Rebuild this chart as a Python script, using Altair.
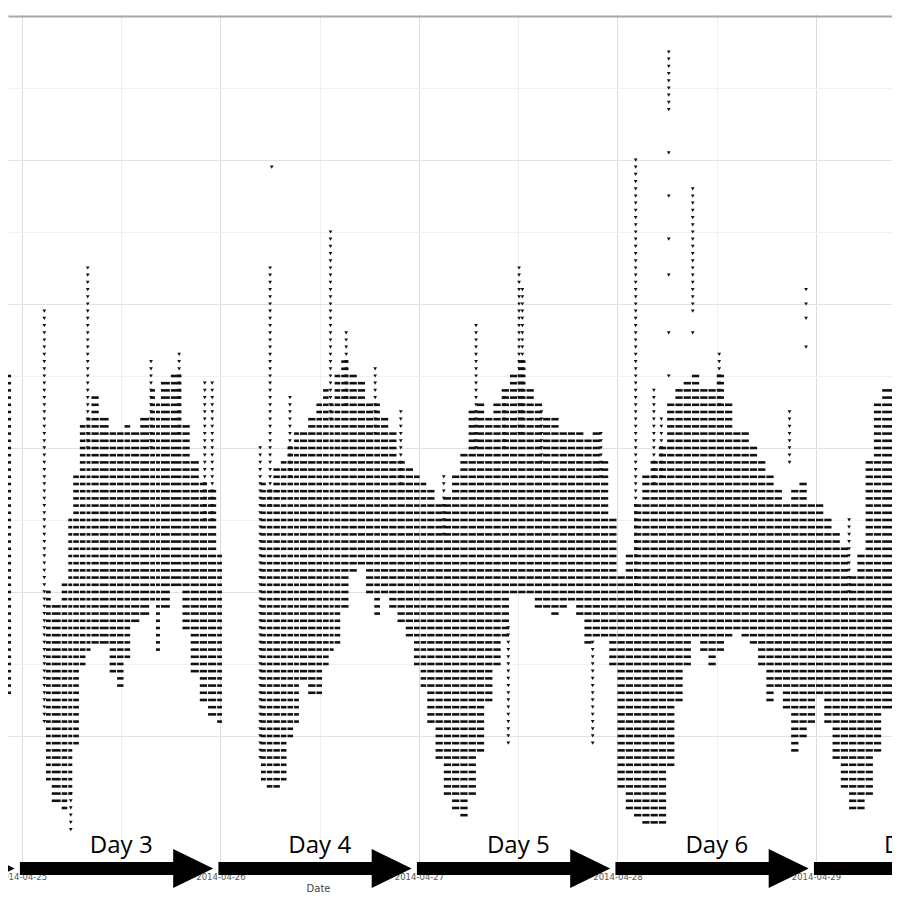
import altair as alt
import pandas as pd

# ---------------- data (x = hours since 2014-04-25 00:00 UTC, y = reading level) -------------
# dense blocks: [start hour, end hour, lowest level, highest level]
day2_blocks = [[-2.7, -1.2, 26, 70]]
day3_blocks = [
    [2.9, 3.6, 14, 40], [3.6, 4.8, 11, 38], [4.8, 5.6, 10, 41], [5.6, 6.2, 12, 50],
    [6.2, 7.0, 19, 56], [7.0, 7.8, 30, 63], [7.8, 8.4, 32, 64], [8.4, 9.4, 33, 67],
    [9.4, 10.6, 33, 64], [10.6, 11.5, 29, 62], [11.5, 12.4, 27, 62], [12.4, 13.2, 31, 63],
    [13.2, 14.3, 36, 62], [14.3, 15.5, 37, 64], [15.5, 16.2, 39, 68], [16.2, 16.8, 32, 66],
    [16.8, 18.0, 38, 69], [18.0, 19.4, 41, 70], [19.4, 20.4, 35, 63], [20.4, 21.5, 29, 58],
    [21.5, 22.5, 25, 55], [22.5, 23.6, 23, 54], [23.6, 24.3, 22, 45],
]
day4_blocks = [
    [28.9, 29.6, 14, 55], [29.6, 30.4, 13, 54], [30.4, 31.3, 13, 57], [31.3, 32.1, 14, 58],
    [32.1, 32.9, 20, 60], [32.9, 33.6, 22, 62], [33.6, 34.6, 28, 62], [34.6, 35.6, 26, 64],
    [35.6, 36.4, 26, 66], [36.4, 37.2, 30, 68], [37.2, 37.8, 32, 66], [37.8, 38.6, 33, 70],
    [38.6, 39.6, 38, 72], [39.6, 40.6, 43, 70], [40.6, 41.6, 44, 69], [41.6, 42.6, 40, 66],
    [42.6, 43.4, 37, 66], [43.4, 44.4, 40, 64], [44.4, 45.4, 38, 62], [45.4, 46.4, 36, 58],
    [46.4, 47.4, 34, 57], [47.4, 48.2, 30, 56],
]
day5_blocks = [
    [48.2, 49.0, 27, 55], [49.0, 50.0, 22, 54], [50.0, 51.0, 17, 52], [51.0, 52.0, 12, 53],
    [52.0, 53.0, 10, 56], [53.0, 54.0, 9, 59], [54.0, 55.0, 12, 65], [55.0, 56.0, 18, 66],
    [56.0, 57.0, 25, 64], [57.0, 58.0, 30, 66], [58.0, 59.0, 34, 68], [59.0, 60.0, 40, 70],
    [60.0, 61.0, 40, 72], [61.0, 62.0, 40, 68], [62.0, 63.0, 38, 66], [63.0, 64.0, 38, 64],
    [64.0, 65.0, 37, 64], [65.0, 66.0, 38, 62], [66.0, 67.0, 39, 62], [67.0, 68.0, 37, 62],
    [68.0, 69.0, 33, 61], [69.0, 70.0, 34, 62], [70.0, 71.0, 34, 58], [71.0, 72.0, 30, 50],
]
day6_blocks = [
    [72.0, 73.0, 13, 42], [73.0, 74.0, 10, 45], [74.0, 75.0, 9, 52], [75.0, 76.0, 8, 56],
    [76.0, 77.0, 8, 58], [77.0, 78.0, 8, 60], [78.0, 79.0, 16, 66], [79.0, 80.0, 25, 68],
    [80.0, 81.0, 30, 69], [81.0, 82.0, 34, 70], [82.0, 83.0, 32, 68], [83.0, 84.0, 30, 68],
    [84.0, 85.0, 32, 70], [85.0, 86.0, 34, 66], [86.0, 87.0, 35, 62], [87.0, 88.0, 34, 62],
    [88.0, 89.0, 33, 60], [89.0, 90.0, 30, 58], [90.0, 91.0, 25, 56], [91.0, 92.0, 27, 54],
    [92.0, 93.0, 24, 52], [93.0, 94.0, 18, 54], [94.0, 95.0, 20, 55], [95.0, 96.0, 22, 52],
]
day7_blocks = [
    [96.0, 97.0, 26, 52], [97.0, 98.0, 22, 50], [98.0, 99.0, 17, 48], [99.0, 100.0, 13, 46],
    [100.0, 101.0, 10, 42], [101.0, 102.0, 10, 45], [102.0, 103.0, 12, 58],
    [103.0, 104.0, 18, 66], [104.0, 105.4, 24, 68],
]

# sparse columns of single readings: hour, lowest level, highest level
spike_hours = [2.7, 7.95, 15.6, 19.0, 22.1, 23.0, 5.9,
               28.8, 30.0, 32.4, 37.3, 39.2, 42.7, 45.8,
               54.9, 60.1, 60.5, 58.8, 69.0, 51.0, 58.3, 62.8, 70.0,
               74.2, 78.2, 81.1, 84.3, 92.8, 76.4, 77.3,
               100.0]
spike_low = [22, 60, 60, 62, 50, 50, 7,
             17, 52, 56, 64, 66, 62, 55,
             60, 62, 62, 19, 19, 48, 60, 58, 56,
             40, 107, 79, 66, 58, 55, 56,
             40]
spike_high = [79, 85, 72, 73, 69, 69, 12,
              60, 85, 67, 90, 76, 71, 65,
              77, 85, 82, 35, 33, 56, 67, 65, 62,
              100, 115, 96, 73, 65, 68, 64,
              50]

# isolated readings
lone_hours = [30.2, 78.2, 78.2, 78.2, 78.2, 78.2, 78.2, 81.1, 94.8, 94.8, 94.8, 94.8]
lone_levels = [99, 101, 95, 89, 84, 76, 70, 76, 82, 80, 78, 74]

# day annotations
day_labels = ["Day 2", "Day 3", "Day 4", "Day 5", "Day 6", "Day 7"]
day_start_hours = [-24, 0, 24, 48, 72, 96]

# ---------------- tables -------------
streak_rows = []
for blocks in [day2_blocks, day3_blocks, day4_blocks, day5_blocks, day6_blocks, day7_blocks]:
    for s, e, lo, hi in blocks:
        for lev in range(lo, hi + 1):
            streak_rows.append({"h": s, "h2": e - 0.12, "L": lev})
streaks_df = pd.DataFrame(streak_rows)

dot_rows = []
for h, lo, hi in zip(spike_hours, spike_low, spike_high):
    for lev in range(lo, hi + 1):
        dot_rows.append({"h": h, "L": lev})
for h, lev in zip(lone_hours, lone_levels):
    dot_rows.append({"h": h, "L": lev})
dots_df = pd.DataFrame(dot_rows)

days_df = pd.DataFrame({
    "day": day_labels,
    "start": [s - 0.25 for s in day_start_hours],
    "shaft_end": [s + 19.0 for s in day_start_hours],
    "head": [s + 20.7 for s in day_start_hours],
    "mid": [s + 12 for s in day_start_hours],
})

# ---------------- chart -------------
xscale = alt.Scale(domain=[-1.69, 105.19], nice=False, zero=False)
yscale = alt.Scale(domain=[1.94, 120.28], nice=False, zero=False)

xaxis = alt.Axis(
    values=[0, 12, 24, 36, 48, 60, 72, 84, 96],
    labelExpr="datum.value % 24 === 0 ? utcFormat(utc(2014,3,25) + datum.value*3600000, '%Y-%m-%d') : ''",
    grid=True,
    gridColor={"condition": {"test": "datum.value % 24 === 0", "value": "#dcdcdc"}, "value": "#efefef"},
    gridWidth=1,
    domain=False,
    ticks=False,
    labelPadding=6,
    labelFontSize=8.5,
    labelColor="#555",
    labelFont="DejaVu Sans",
    title="Date",
    titleFontSize=10,
    titleFontWeight="normal",
    titleColor="#444",
    titleFont="DejaVu Sans",
    titleX=310,
    titleY=17,
)
yaxis = alt.Axis(
    values=[20, 30, 40, 50, 60, 70, 80, 90, 100, 110, 120],
    grid=True,
    gridColor={"condition": [{"test": "datum.value === 120", "value": "#a8a8a8"},
                             {"test": "datum.value % 20 === 0", "value": "#e2e2e2"}],
               "value": "#f1f1f1"},
    gridWidth={"condition": {"test": "datum.value === 120", "value": 2}, "value": 1},
    labels=False,
    ticks=False,
    domain=False,
    title=None,
)

streaks = alt.Chart(streaks_df).mark_rule(strokeWidth=2.6, color="#111", strokeCap="butt").encode(
    x=alt.X("h:Q", scale=xscale, axis=xaxis),
    x2="h2:Q",
    y=alt.Y("L:Q", scale=yscale, axis=yaxis),
)

dots = alt.Chart(dots_df).mark_point(shape="triangle-down", filled=True, size=14, color="#111", opacity=1).encode(
    x="h:Q", y="L:Q"
)

shaft = alt.Chart(days_df).mark_rule(strokeWidth=13, color="black", strokeCap="butt").encode(
    x="start:Q", x2="shaft_end:Q", y=alt.value(854.5)
)
head = alt.Chart(days_df).mark_point(
    shape="M-1,-0.975L1,0L-1,0.975Z", filled=True, size=1600, color="black", opacity=1, strokeWidth=0
).encode(x="head:Q", y=alt.value(854.5))
labels = alt.Chart(days_df).mark_text(
    fontSize=24, font="Open Sans", baseline="alphabetic", align="center", color="black"
).encode(x="mid:Q", y=alt.value(839), text="day:N")

chart = alt.layer(streaks, dots, shaft, head, labels).properties(
    width=884,
    height=852,
    autosize=alt.AutoSizeParams(type="none"),
    padding={"left": 0, "top": 6, "right": 0, "bottom": 26},
).configure_view(stroke=None)

chart.save("out.html", embed_options={"renderer": "svg", "actions": False})
